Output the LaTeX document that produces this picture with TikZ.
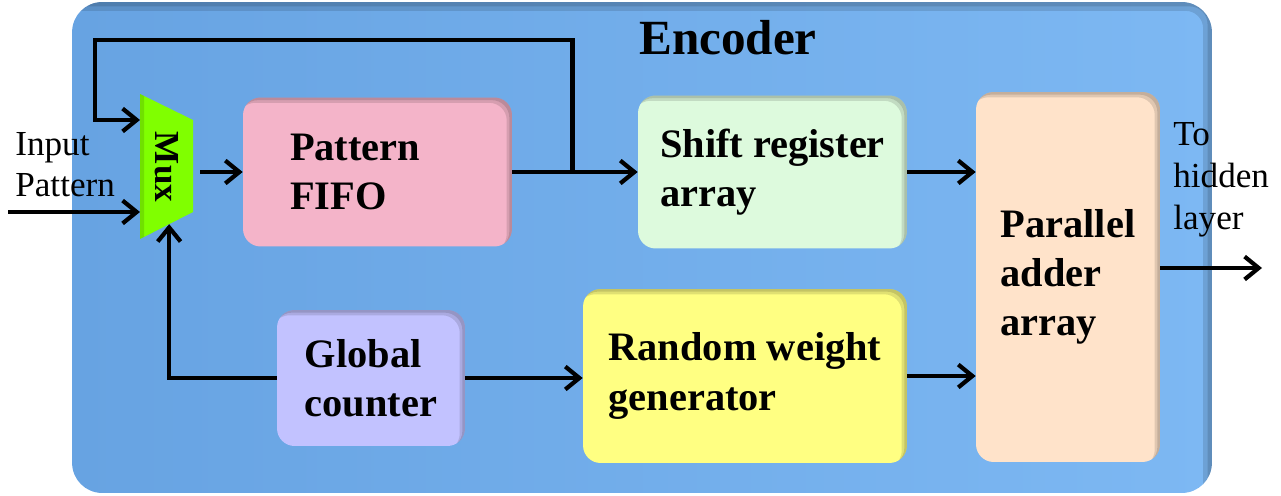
\documentclass[tikz,border=0pt]{standalone}
\usepackage{fontspec}
\setmainfont{Liberation Serif}
\usetikzlibrary{arrows.meta,calc}

\definecolor{encblueL}{HTML}{67A3E2}
\definecolor{encblueR}{HTML}{7DB8F3}
\definecolor{fifopink}{HTML}{F4B4C9}
\definecolor{shiftgreen}{HTML}{DDFADD}
\definecolor{adderpeach}{HTML}{FFE3CA}
\definecolor{counterlav}{HTML}{C2C2FF}
\definecolor{rwgyellow}{HTML}{FFFF82}
\definecolor{muxgreen}{HTML}{80FF00}

\tikzset{
  % dark band along the top and right edge, inside the shape
  inset/.style={path picture={
    \foreach \d in {#1}
      \fill[black, opacity=.12, even odd rule]
        ([shift={(-20pt,-20pt)}]path picture bounding box.south west)
          rectangle ([shift={(20pt,20pt)}]path picture bounding box.north east)
        [rounded corners=10pt]
        ([shift={(-\d,-\d)}]path picture bounding box.south west)
          rectangle ([shift={(-\d,-\d)}]path picture bounding box.north east);
  }},
  block/.style={rounded corners=10pt, align=left, inset={3pt,1.5pt},
    font=\fontsize{23}{28}\selectfont\bfseries},
  plain/.style={inner sep=0pt, align=left, anchor=north west,
    font=\fontsize{20}{23.5}\selectfont},
  arr/.style={line width=2.4pt, -{Straight Barb[length=8pt,width=13pt]}},
}

\begin{document}
\begin{tikzpicture}[x=0.02cm, y=-0.02cm]
\useasboundingbox (0,0) rectangle (1281,496);

% encoder frame
\node (encoder) [rounded corners=0.6cm, left color=encblueL, right color=encblueR,
  inset={5pt,2.5pt}, minimum width=22.8cm, minimum height=9.82cm] at (642,247.5) {};
\node (title) [anchor=base, font=\fontsize{28}{32}\selectfont\bfseries] at (728,55) {Encoder};

% mux
\coordinate (muxtl) at (140,94);
\coordinate (muxbl) at (140,239);
\coordinate (muxtr) at (193,120);
\coordinate (muxbr) at (193,212);
\fill[muxgreen] (muxtl) -- (muxtr) -- (muxbr) -- (muxbl) -- cycle;
\fill[black, opacity=.12] (muxtl) -- ++(4,2) -- ($(muxbl)+(4,-2)$) -- (muxbl) -- cycle;
\node (mux) [rotate=-90, inner sep=0pt, font=\fontsize{20}{24}\selectfont\bfseries]
  at (167,167) {Mux};

% blocks
\node (fifo) [block, fill=fifopink, minimum width=5.38cm, minimum height=2.98cm,
  text width=3.5cm, inner xsep=0.94cm] at (377.5,172) {Pattern\\FIFO};
\node (shift) [block, fill=shiftgreen, minimum width=5.38cm, minimum height=3.06cm]
  at (772.5,172) {Shift register\\array};
\node (adder) [block, fill=adderpeach, minimum width=3.68cm, minimum height=7.4cm]
  at (1068,277) {Parallel\\adder\\array};
\node (counter) [block, fill=counterlav, minimum width=3.76cm, minimum height=2.72cm]
  at (371,378) {Global\\counter};
\node (rwg) [block, fill=rwgyellow, minimum width=6.48cm, minimum height=3.48cm]
  at (745,376) {Random weight\\generator};

% labels
\node (inlbl) [plain] at (15,132) {Input\\Pattern};
\node (outlbl) [plain, font=\fontsize{20}{24}\selectfont] at (1173,122) {To\\hidden\\layer};

% connections
\coordinate (in) at (8,212);
\coordinate (fbtop) at (95,40);
\coordinate (fbin) at (0,120);
\coordinate (sel) at ($(muxbl)!0.55!(muxbr)$);
\coordinate (hidden) at (1262,268);
\coordinate (tap) at ($(fifo.east)!0.48!(shift.west)$);

\draw[arr] (in) -- (muxtl |- in);
\draw[arr] ($(muxtr |- fifo.west)+(7,0)$) -- (fifo.west);
\draw[arr] (fifo.east) -- (shift.west |- fifo.east);
\draw[arr] (tap) |- (fbtop) |- (muxtl |- fbin);
\draw[arr] (shift.east) -- (shift.east -| adder.west);
\draw[arr] (rwg.east) -- (rwg.east -| adder.west);
\draw[arr] (counter.east) -- (counter.east -| rwg.west);
\draw[arr] (counter.west) -| (sel);
\draw[arr] (adder.east |- hidden) -- (hidden);
\end{tikzpicture}
\end{document}
